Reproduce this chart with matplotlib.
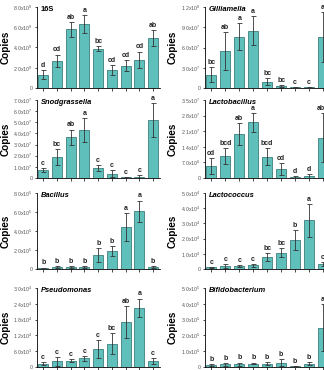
import matplotlib

matplotlib.use("Agg")
import matplotlib.pyplot as plt
import numpy as np

plt.rcParams["font.family"] = ["Liberation Sans", "DejaVu Sans"]
plt.rcParams["mathtext.fontset"] = "custom"
plt.rcParams["mathtext.rm"] = "Liberation Sans"

# ---------------------------------------------------------------------------
# Data (values in units of 10^exp copies)
# ---------------------------------------------------------------------------

panels = ["16S", "Gilliamella", "Snodgrassella", "Lactobacillus",
          "Bacillus", "Lactococcus", "Pseudomonas", "Bifidobacterium"]

mean_16s = [1.3, 2.7, 5.8, 6.3, 3.9, 1.75, 2.2, 2.8, 4.9]
err_16s = [0.45, 0.6, 0.75, 0.9, 0.25, 0.5, 0.55, 0.8, 0.8]
let_16s = ["d", "cd", "ab", "a", "bc", "cd", "cd", "cd", "ab"]

mean_gil = [1.95, 5.5, 7.6, 8.5, 0.95, 0.35, 0.1, 0.1, 7.5]
err_gil = [1.1, 2.8, 2.0, 2.1, 0.55, 0.15, 0.05, 0.05, 3.7]
let_gil = ["bc", "ab", "a", "a", "bc", "bc", "c", "c", "a"]

mean_sno = [0.7, 1.9, 3.65, 4.3, 0.87, 0.4, 0.05, 0.1, 5.2]
err_sno = [0.2, 0.7, 0.7, 1.1, 0.27, 0.35, 0.05, 0.2, 1.5]
let_sno = ["c", "bc", "ab", "a", "c", "c", "c", "c", "a"]

mean_lac = [0.54, 0.98, 1.97, 2.5, 0.96, 0.42, 0.04, 0.1, 1.8]
err_lac = [0.36, 0.37, 0.5, 0.42, 0.38, 0.27, 0.03, 0.08, 1.1]
let_lac = ["cd", "bcd", "ab", "a", "bcd", "cd", "d", "d", "abc"]

mean_bac = [0.1, 0.2, 0.22, 0.25, 1.45, 1.9, 4.4, 6.1, 0.2]
err_bac = [0.05, 0.1, 0.08, 0.1, 0.75, 0.5, 1.5, 1.1, 0.1]
let_bac = ["b", "b", "b", "b", "b", "b", "a", "a", "b"]

mean_lcc = [0.1, 0.2, 0.2, 0.25, 0.8, 1.06, 1.9, 3.2, 0.33]
err_lcc = [0.05, 0.15, 0.05, 0.1, 0.25, 0.3, 0.65, 1.1, 0.15]
let_lcc = ["c", "c", "c", "c", "bc", "bc", "b", "a", "c"]

mean_pse = [0.13, 0.21, 0.24, 0.33, 0.69, 0.88, 1.71, 2.24, 0.23]
err_pse = [0.05, 0.16, 0.05, 0.09, 0.35, 0.4, 0.6, 0.36, 0.12]
let_pse = ["c", "c", "c", "c", "c", "bc", "ab", "a", "c"]

mean_bif = [0.12, 0.16, 0.18, 0.22, 0.22, 0.28, 0.04, 0.2, 2.5]
err_bif = [0.04, 0.1, 0.1, 0.06, 0.1, 0.2, 0.03, 0.1, 1.5]
let_bif = ["b", "b", "b", "b", "b", "b", "b", "b", "a"]

means = [mean_16s, mean_gil, mean_sno, mean_lac, mean_bac, mean_lcc, mean_pse, mean_bif]
errors = [err_16s, err_gil, err_sno, err_lac, err_bac, err_lcc, err_pse, err_bif]
letters = [let_16s, let_gil, let_sno, let_lac, let_bac, let_lcc, let_pse, let_bif]
exponents = [9, 7, 7, 7, 5, 4, 4, 5]
tick_values = [
    [0, 2.0, 4.0, 6.0, 8.0],
    [0, 3.0, 6.0, 9.0, 12.0],
    [0, 1.0, 2.0, 3.0, 4.0, 5.0, 6.0, 7.0],
    [0, 0.7, 1.4, 2.1, 2.8, 3.5],
    [0, 2.0, 4.0, 6.0, 8.0],
    [0, 1.0, 2.0, 3.0, 4.0, 5.0],
    [0, 0.6, 1.2, 1.8, 2.4, 3.0],
    [0, 1.0, 2.0, 3.0, 4.0, 5.0],
]

BAR_COLOR = "#5fbfba"
EDGE_COLOR = "#3d7f7b"


def sci_label(value: float) -> str:
    if value == 0:
        return "0"
    exp = int(np.floor(np.log10(value) + 1e-9))
    mant = value / 10**exp
    return f"{mant:.1f}x10$^{{{exp}}}$"


fig = plt.figure(figsize=(3.24, 3.70), dpi=100)

rows = [(88, 7), (178, 100), (269, 193), (367, 288)]  # (zero px, top px)
cols = [(37, 123), (205, 125)]  # (left px, width px)
ylabel_x = [6, 173]

for i, name in enumerate(panels):
    r, c = divmod(i, 2)
    zero_px, top_px = rows[r]
    left_px, width_px = cols[c]
    ax = fig.add_axes([left_px / 324, (370 - zero_px) / 370,
                       width_px / 324, (zero_px - top_px) / 370])

    scale = 10.0 ** exponents[i]
    ticks = tick_values[i]
    x = np.arange(len(means[i]))
    y = np.array(means[i]) * scale
    e = np.array(errors[i]) * scale

    ax.bar(x, y, width=0.72, color=BAR_COLOR, edgecolor=EDGE_COLOR, linewidth=0.6, zorder=2)
    ax.errorbar(x, y, yerr=e, fmt="none", ecolor="#333333", elinewidth=0.6,
                capsize=1.8, capthick=0.6, zorder=3)
    for xi, yi, ei, lab in zip(x, y, e, letters[i]):
        ax.annotate(lab, (xi, yi + ei), xytext=(0, 0.8), textcoords="offset points",
                    ha="center", va="bottom", fontsize=5.0, fontweight="bold",
                    color="#222222")

    ax.set_xlim(-0.45, 8.5)
    ax.set_ylim(0, ticks[-1] * scale)
    ax.set_yticks([t * scale for t in ticks])
    ax.set_yticklabels([sci_label(t * scale) for t in ticks])
    ax.set_xticks(x)
    ax.set_xticklabels([])
    ax.tick_params(axis="y", labelsize=3.8, labelcolor="#555555", length=1.8,
                   width=0.5, pad=1)
    ax.tick_params(axis="x", length=1.8, width=0.5)
    for side in ("top", "right"):
        ax.spines[side].set_visible(False)
    for side in ("left", "bottom"):
        ax.spines[side].set_linewidth(0.6)

    style = "normal" if name == "16S" else "italic"
    ax.text(0.03, 0.965, name, transform=ax.transAxes, ha="left", va="center",
            fontsize=5.4, fontweight="bold", fontstyle=style)

    fig.text(ylabel_x[c] / 324, 1 - (zero_px + top_px) / 2 / 370, "Copies",
             rotation=90, ha="center", va="center", fontsize=7.2, fontweight="bold")

fig.savefig("out.png", dpi=100)
